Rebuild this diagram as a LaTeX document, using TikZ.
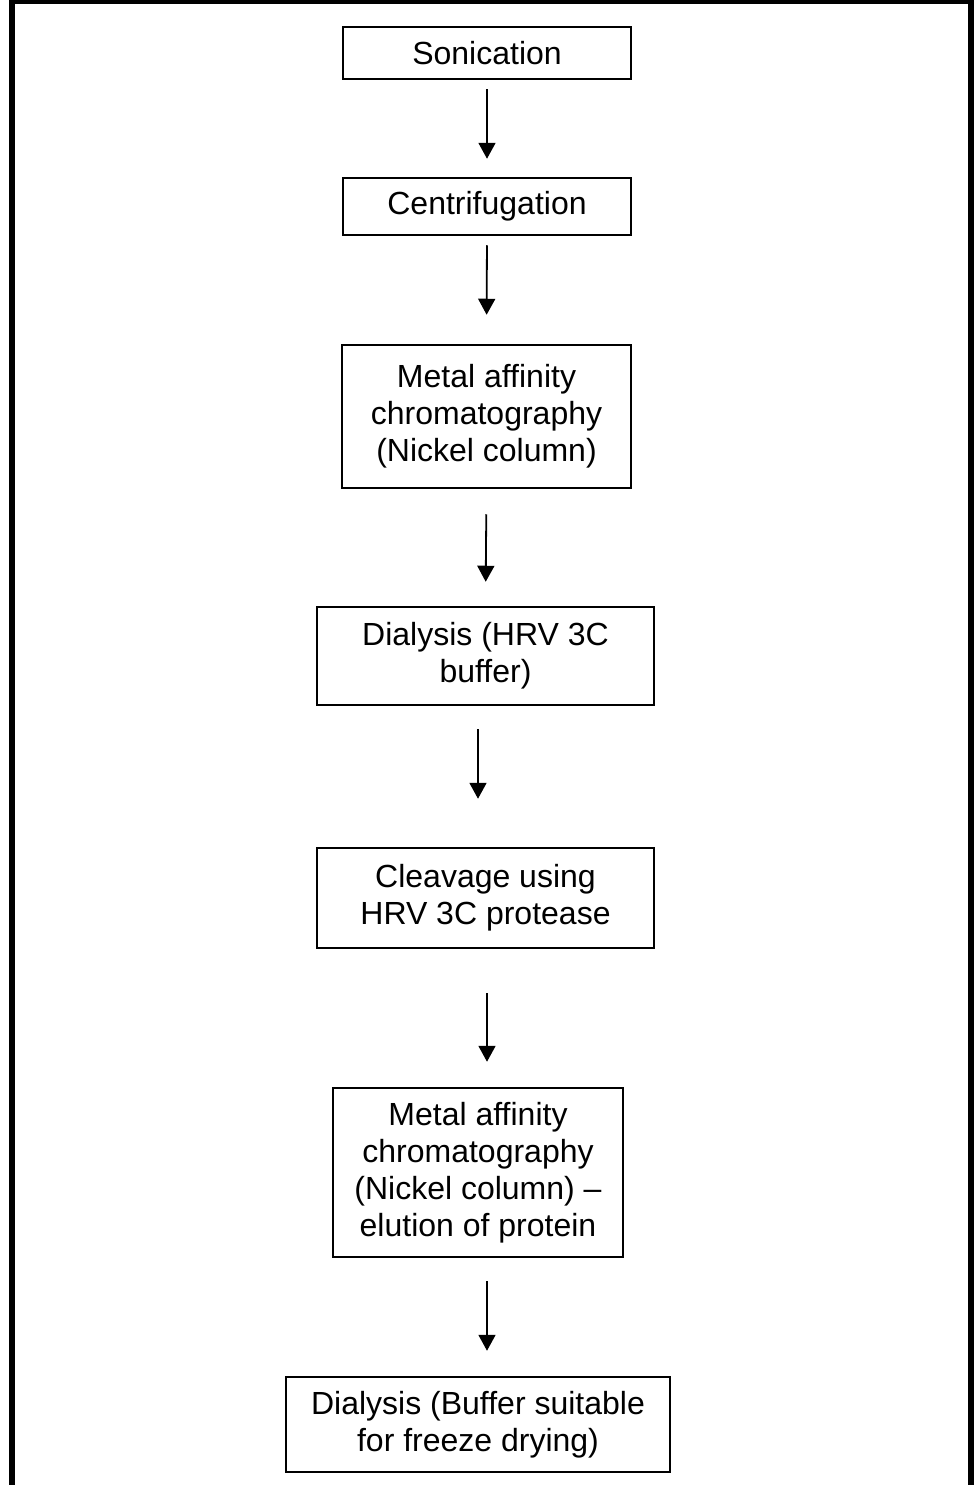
\documentclass[tikz,border=0pt]{standalone}
\usepackage{fontspec}
\setmainfont{Liberation Sans}
\usetikzlibrary{arrows.meta}
\begin{document}
\begin{tikzpicture}[x=1pt,y=-1pt,
  stepbox/.style={draw, line width=2.5pt, align=center, inner sep=0pt, font=\fontsize{32}{37}\selectfont},
  arr/.style={line width=1.8pt, -{Triangle[width=17pt,length=16pt]}}]
\useasboundingbox (0,0) rectangle (976,1485);
\clip (0,0) rectangle (976,1485);
\draw[line width=6pt] (12,1) rectangle (971,1520);
\node[stepbox, minimum width=288pt, minimum height=52pt] (b1) at (487,53) {Sonication};
\node[stepbox, minimum width=288pt, minimum height=57pt] (b2) at (487,206.5) {Centrifugation};
\node[stepbox, minimum width=289pt, minimum height=143pt] (b3) at (486.5,416.5) {Metal affinity\\chromatography\\(Nickel column)};
\node[stepbox, minimum width=337pt, minimum height=98pt] (b4) at (485.5,656) {Dialysis (HRV 3C\\buffer)};
\node[stepbox, minimum width=337pt, minimum height=100pt] (b5) at (485.5,898) {Cleavage using\\HRV 3C protease};
\node[stepbox, minimum width=290pt, minimum height=169pt] (b6) at (478,1172.5) {Metal affinity\\chromatography\\(Nickel column) --\\elution of protein};
\node[stepbox, minimum width=384pt, minimum height=95pt] (b7) at (478,1424.5) {Dialysis (Buffer suitable\\for freeze drying)};
\draw[arr, shorten <=9pt, shorten >=18pt] (b1.south) -- (b2.north);
\draw[arr, shorten <=9pt, shorten >=29pt] (b2.south) -- (b3.north);
\draw[arr, shorten <=25pt, shorten >=24pt] (b3.south) -- (b4.north);
\draw[arr, shorten <=23pt, shorten >=48pt] ([xshift=-7.5pt]b4.south) -- ([xshift=-7.5pt]b5.north);
\draw[arr, shorten <=44pt, shorten >=25pt] ([xshift=1.5pt]b5.south) -- ([xshift=9pt]b6.north);
\draw[arr, shorten <=23pt, shorten >=25pt] ([xshift=9pt]b6.south) -- ([xshift=9pt]b7.north);
\end{tikzpicture}
\end{document}
